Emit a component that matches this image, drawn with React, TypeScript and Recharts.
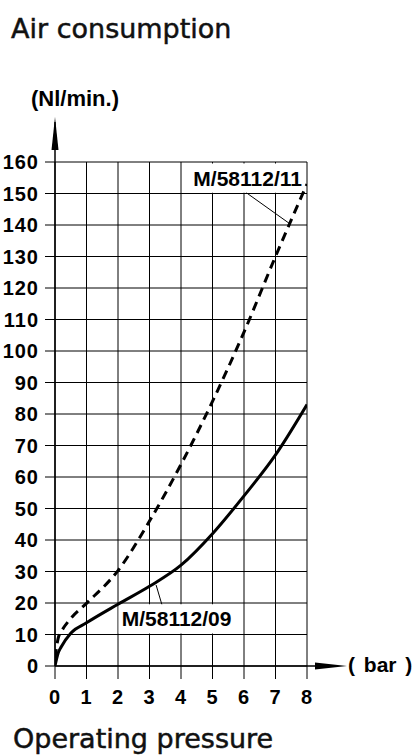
import {
  CartesianGrid,
  Line,
  LineChart,
  ReferenceArea,
  ReferenceDot,
  ReferenceLine,
  XAxis,
  YAxis,
} from "recharts";

const FONT = "'Liberation Sans', Arial, Helvetica, sans-serif";
const TITLE_FONT = "'DejaVu Sans', sans-serif";

// axis ticks
const pressureTicks = [0, 1, 2, 3, 4, 5, 6, 7, 8];
const flowTicks = [0, 10, 20, 30, 40, 50, 60, 70, 80, 90, 100, 110, 120, 130, 140, 150, 160];

// M/58112/09 (solid)
const m09Pressure = [0, 0.1, 0.2, 0.5, 1, 2, 3, 4, 5, 6, 7, 8];
const m09Flow = [0, 4.1, 6.1, 10.4, 13.7, 19.6, 25.3, 32, 42, 54, 67, 83];

// M/58112/11 (dashed)
const m11Pressure = [0, 0.1, 0.2, 0.5, 1, 2, 3, 4, 5, 6, 7, 8];
const m11Flow = [2.5, 8.8, 10.9, 15.1, 19.9, 30.3, 46, 64, 84, 106, 130, 153];

const m09 = m09Pressure.map((x, i) => ({ x, y: m09Flow[i] }));
const m11 = m11Pressure.map((x, i) => ({ x, y: m11Flow[i] }));

const tickStyle = { fill: "#000", fontSize: 20, fontWeight: 700, fontFamily: FONT, letterSpacing: 1 };
const labelStyle = { fill: "#000", fontSize: 21, fontWeight: 700, fontFamily: FONT };

function YArrow(props: any) {
  const { cx, cy } = props;
  return (
    <g>
      <line x1={cx} y1={cy} x2={cx} y2={cy - 40} stroke="#000" strokeWidth={1.5} />
      <polygon points={`${cx},${cy - 45} ${cx - 3.5},${cy - 12} ${cx + 3.5},${cy - 12}`} fill="#000" />
      <text
        x={cx + 20}
        y={cy - 62}
        textAnchor="middle"
        dominantBaseline="middle"
        fontFamily={FONT}
        fontWeight={700}
        fontSize={22}
        fill="#000"
      >
        (Nl/min.)
      </text>
    </g>
  );
}

function XArrow(props: any) {
  const { cx, cy } = props;
  return (
    <g>
      <line x1={cx} y1={cy} x2={cx + 12} y2={cy} stroke="#000" strokeWidth={1.5} />
      <polygon points={`${cx + 40},${cy} ${cx + 8},${cy - 3.5} ${cx + 8},${cy + 3.5}`} fill="#000" />
      <text
        x={cx + 41}
        y={cy}
        textAnchor="start"
        dominantBaseline="middle"
        fontFamily={FONT}
        fontWeight={700}
        fontSize={21}
        wordSpacing={3}
        fill="#000"
      >
        ( bar )
      </text>
    </g>
  );
}

const titleStyle: React.CSSProperties = {
  position: "absolute",
  left: 11,
  fontFamily: TITLE_FONT,
  fontSize: 27,
  lineHeight: "27px",
  color: "#111",
  whiteSpace: "nowrap",
  WebkitTextStroke: "0.5px #111",
};

export default function App() {
  return (
    <div style={{ position: "absolute", left: 0, top: 0, width: 416, height: 755, background: "#fff" }}>
      <div style={{ ...titleStyle, top: 15 }}>Air consumption</div>
      <LineChart
        width={416}
        height={755}
        margin={{ top: 162, right: 109, left: 0, bottom: 39 }}
      >
        <CartesianGrid stroke="#000" strokeWidth={1} />
        <XAxis
          type="number"
          dataKey="x"
          domain={[0, 8]}
          ticks={pressureTicks}
          interval={0}
          height={50}
          tickSize={13}
          tickMargin={11}
          tick={tickStyle}
          tickLine={{ stroke: "#000" }}
          axisLine={{ stroke: "#000", strokeWidth: 1.5 }}
          allowDataOverflow
        />
        <YAxis
          type="number"
          dataKey="y"
          domain={[0, 160]}
          ticks={flowTicks}
          interval={0}
          width={55}
          tickSize={10}
          tickMargin={6}
          tick={tickStyle}
          tickLine={{ stroke: "#000" }}
          axisLine={{ stroke: "#000", strokeWidth: 1.5 }}
          allowDataOverflow
        />
        <ReferenceArea
          x1={2.02}
          x2={5.7}
          y1={10.3}
          y2={19.6}
          fill="#fff"
          fillOpacity={1}
          stroke="none"
          ifOverflow="visible"
          label={{ value: "M/58112/09", position: "center", ...labelStyle }}
        />
        <ReferenceArea
          x1={4.29}
          x2={7.94}
          y1={150.2}
          y2={159.5}
          fill="#fff"
          fillOpacity={1}
          stroke="none"
          ifOverflow="visible"
          label={{ value: "M/58112/11", position: "center", ...labelStyle }}
        />
        <ReferenceLine
          segment={[{ x: 3.21, y: 25.7 }, { x: 3.39, y: 19.6 }]}
          stroke="#000"
          strokeWidth={1}
          ifOverflow="visible"
        />
        <ReferenceLine
          segment={[{ x: 6.08, y: 150.2 }, { x: 7.44, y: 140.5 }]}
          stroke="#000"
          strokeWidth={1}
          ifOverflow="visible"
        />
        <Line
          data={m09}
          dataKey="y"
          type="monotone"
          stroke="#000"
          strokeWidth={3}
          dot={false}
          activeDot={false}
          isAnimationActive={false}
        />
        <Line
          data={m11}
          dataKey="y"
          type="monotone"
          stroke="#000"
          strokeWidth={3}
          strokeDasharray="9 6"
          dot={false}
          activeDot={false}
          isAnimationActive={false}
        />
        <ReferenceDot x={0} y={160} r={0} ifOverflow="visible" shape={YArrow} />
        <ReferenceDot x={8} y={0} r={0} ifOverflow="visible" shape={XArrow} />
      </LineChart>
      <div style={{ ...titleStyle, top: 725, left: 13 }}>Operating pressure</div>
    </div>
  );
}
